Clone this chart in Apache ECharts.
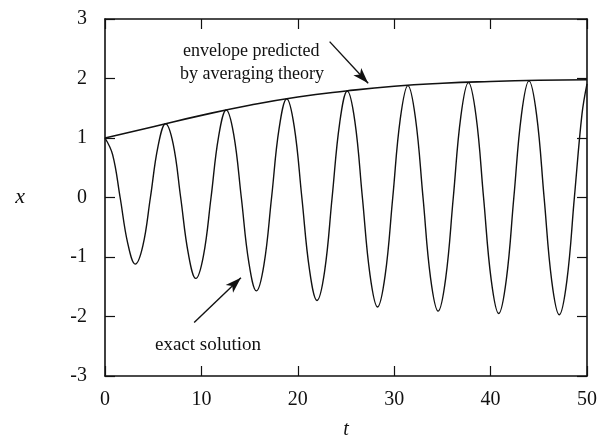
<!DOCTYPE html>
<html>
<head>
<meta charset="utf-8">
<script src="https://cdn.jsdelivr.net/npm/echarts@6/dist/echarts.min.js"></script>
<style>
  html, body { margin: 0; padding: 0; background: #fff; }
  #chart { width: 605px; height: 445px; }
</style>
</head>
<body>
<div id="chart"></div>
<script>
// exact solution, every eighth of a cycle
var solT = [0, 0.79, 1.57, 2.36, 3.14, 3.93, 4.71, 5.50,
            6.28, 7.07, 7.85, 8.64, 9.42, 10.21, 11.00, 11.78,
            12.57, 13.35, 14.14, 14.92, 15.71, 16.49, 17.28, 18.06,
            18.85, 19.63, 20.42, 21.21, 21.99, 22.78, 23.56, 24.35,
            25.13, 25.92, 26.70, 27.49, 28.27, 29.06, 29.85, 30.63,
            31.42, 32.20, 32.99, 33.77, 34.56, 35.34, 36.13, 36.91,
            37.70, 38.49, 39.27, 40.06, 40.84, 41.63, 42.41, 43.20,
            43.98, 44.77, 45.55, 46.34, 47.12, 47.91, 48.69, 49.48, 50];
var solX = [1.00, 0.72, 0, -0.77, -1.12, -0.81, 0, 0.86,
            1.24, 0.90, 0, -0.94, -1.36, -0.98, 0, 1.02,
            1.47, 1.06, 0, -1.09, -1.57, -1.13, 0, 1.16,
            1.66, 1.19, 0, -1.21, -1.73, -1.24, 0, 1.26,
            1.79, 1.28, 0, -1.30, -1.84, -1.31, 0, 1.32,
            1.88, 1.34, 0, -1.35, -1.91, -1.36, 0, 1.36,
            1.93, 1.37, 0, -1.38, -1.95, -1.38, 0, 1.39,
            1.96, 1.39, 0, -1.40, -1.97, -1.40, 0, 1.40, 1.91];
// envelope from averaging theory
var envT = [0, 5, 10, 15, 20, 25, 30, 35, 40, 45, 50];
var envX = [1.00, 1.19, 1.38, 1.55, 1.69, 1.79, 1.87, 1.92, 1.95, 1.97, 1.98];

var xTicks = [0, 10, 20, 30, 40, 50];
var yTicks = [-3, -2, -1, 0, 1, 2, 3];

var FONT = 'Liberation Serif';

function pairs(a, b) {
  return a.map(function (v, i) { return [v, b[i]]; });
}

var chart = echarts.init(document.getElementById('chart'));

var axisCommon = {
  type: 'value',
  axisLine: { show: true, onZero: false, lineStyle: { color: '#111', width: 1.6 } },
  axisTick: { show: true, inside: true, length: 10, lineStyle: { color: '#111', width: 1.2 } },
  splitLine: { show: false }
};

var option = {
  backgroundColor: '#fff',
  animation: false,
  grid: { left: 105, right: 18, top: 19, bottom: 64 },
  xAxis: [
    Object.assign({}, axisCommon, {
      min: xTicks[0], max: xTicks[xTicks.length - 1], interval: 10,
      position: 'bottom',
      axisLabel: { fontFamily: FONT, fontSize: 20, color: '#111', margin: 14 },
      name: 't', nameLocation: 'middle', nameGap: 44,
      nameTextStyle: { fontFamily: FONT, fontStyle: 'italic', fontSize: 20, color: '#111' }
    }),
    Object.assign({}, axisCommon, {
      min: xTicks[0], max: xTicks[xTicks.length - 1], interval: 10,
      position: 'top', axisLabel: { show: false }
    })
  ],
  yAxis: [
    Object.assign({}, axisCommon, {
      min: yTicks[0], max: yTicks[yTicks.length - 1], interval: 1,
      position: 'left',
      axisLabel: { fontFamily: FONT, fontSize: 20, color: '#111', margin: 18 },
      name: 'x', nameLocation: 'middle', nameGap: 80, nameRotate: 0,
      nameTextStyle: { fontFamily: FONT, fontStyle: 'italic', fontSize: 22, color: '#111' }
    }),
    Object.assign({}, axisCommon, {
      min: yTicks[0], max: yTicks[yTicks.length - 1], interval: 1,
      position: 'right', axisLabel: { show: false }
    })
  ],
  series: [
    {
      type: 'line',
      data: pairs(solT, solX),
      smooth: 0.4,
      symbol: 'none',
      lineStyle: { color: '#111', width: 1.4 },
      silent: true
    },
    {
      type: 'line',
      data: pairs(envT, envX),
      smooth: true,
      symbol: 'none',
      lineStyle: { color: '#111', width: 1.6 },
      silent: true,
      markLine: {
        silent: true,
        symbol: ['none', 'arrow'],
        symbolSize: [8, 16],
        label: { show: false },
        lineStyle: { color: '#111', width: 1.4, type: 'solid' },
        data: [
          [{ coord: [23.3, 2.62] }, { coord: [27.3, 1.92] }],
          [{ coord: [9.25, -2.1] }, { coord: [14.1, -1.35] }]
        ]
      }
    }
  ],
  graphic: [
    {
      type: 'text', left: 183, top: 42,
      style: { text: 'envelope predicted', font: '18px "Liberation Serif"', fill: '#111' }
    },
    {
      type: 'text', left: 180, top: 65,
      style: { text: 'by averaging theory', font: '18px "Liberation Serif"', fill: '#111' }
    },
    {
      type: 'text', left: 155, top: 336,
      style: { text: 'exact solution', font: '19px "Liberation Serif"', fill: '#111' }
    }
  ]
};

chart.setOption(option);
</script>
</body>
</html>
